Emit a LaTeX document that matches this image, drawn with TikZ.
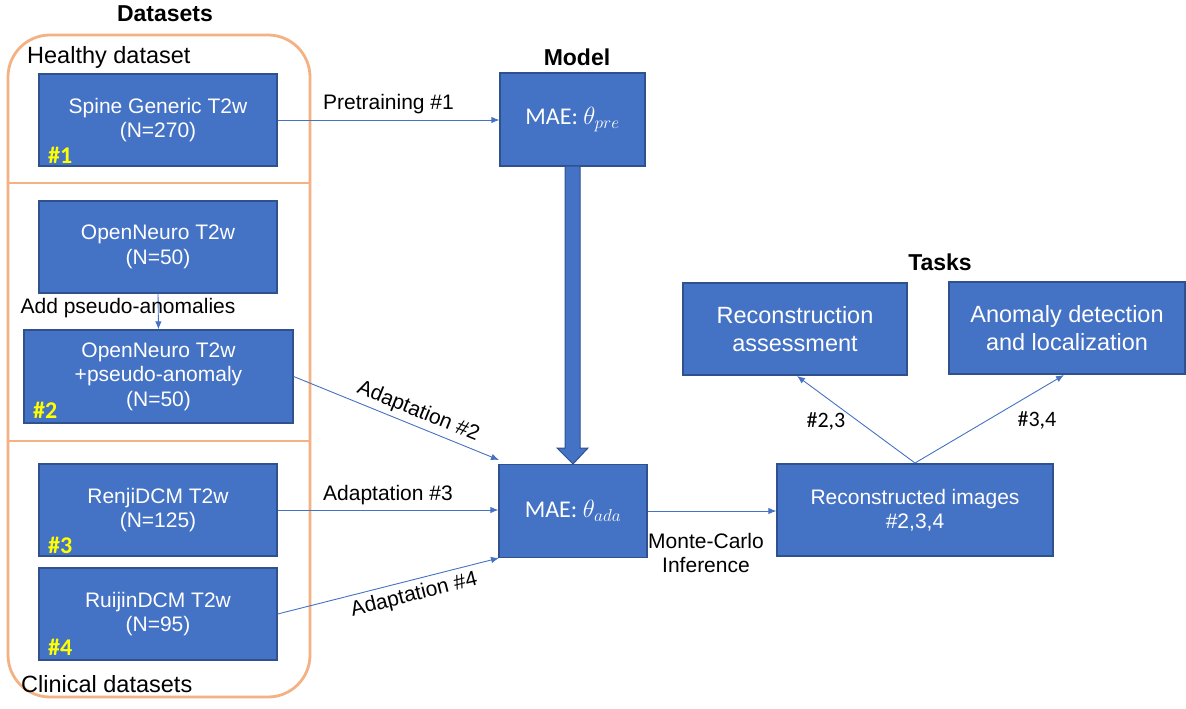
\documentclass[tikz,border=0pt]{standalone}
\usepackage{fontspec}
\setmainfont{Liberation Sans}
\newfontfamily\calibri{Carlito}
\usetikzlibrary{arrows.meta}
\definecolor{boxblue}{HTML}{4472C4}
\definecolor{boxedge}{HTML}{2F528F}
\definecolor{frameorange}{HTML}{F4B183}
\definecolor{tagyellow}{HTML}{FFFF00}
\tikzset{
  txt/.style={font=\fontsize{21}{24}\selectfont, align=center, inner sep=0pt},
  head/.style={font=\fontsize{23}{26}\selectfont\bfseries, inner sep=0pt},
  group/.style={font=\fontsize{23.5}{27}\selectfont, inner sep=0pt, anchor=west},
  dbox/.style={draw=boxedge, fill=boxblue, line width=1.3pt, text=white,
    font=\fontsize{21}{24.5}\selectfont, align=center, inner sep=0pt},
  taskbox/.style={dbox, font=\fontsize{23.5}{28.5}\selectfont},
  mbox/.style={dbox, font=\calibri\fontsize{24}{28}\selectfont},
  tag/.style={text=tagyellow, font=\calibri\fontsize{24}{26}\selectfont\bfseries, inner sep=0pt, anchor=south west},
  flow/.style={draw=boxblue, line width=0.9pt, -{Latex[length=8pt,width=6.5pt]}},
  num/.style={font=\calibri\fontsize{22}{26}\selectfont, inner sep=0pt},
}
\begin{document}
\begin{tikzpicture}[x=1pt,y=-1pt]
\useasboundingbox (0,0) rectangle (1186,709);

% dataset frame with its three groups
\draw[frameorange, line width=2.8pt, rounded corners=42pt] (8,35) rectangle (310,697);
\draw[frameorange, line width=2.8pt] (8,183) -- (310,183);
\draw[frameorange, line width=2.8pt] (8,441) -- (310,441);

\node[head] (hdata) at (165,14) {Datasets};
\node[group] (ghealthy) at (27,57) {Healthy dataset};
\node[group] (gclinical) at (21,684) {Clinical datasets};

% dataset boxes
\node[dbox, minimum width=238pt, minimum height=92pt] (spine) at (158,120) {Spine Generic T2w\\(N=270)};
\node[tag] (t1) at (48,164) {\#1};
\node[dbox, minimum width=238pt, minimum height=92pt] (open) at (158,247) {OpenNeuro T2w\\(N=50)};
\node[dbox, minimum width=269pt, minimum height=93pt] (openpa) at (158.5,376.5) {OpenNeuro T2w\\+pseudo-anomaly\\(N=50)};
\node[tag] (t2) at (33,419) {\#2};
\node[dbox, minimum width=238pt, minimum height=92pt] (renji) at (158,510) {RenjiDCM T2w\\(N=125)};
\node[tag] (t3) at (48,554) {\#3};
\node[dbox, minimum width=238pt, minimum height=92pt] (ruijin) at (158,614) {RuijinDCM T2w\\(N=95)};
\node[tag] (t4) at (48,656) {\#4};

\draw[flow] (open.south) -- (openpa.north);
\node[txt] (addpa) at (128,308) {Add pseudo-anomalies};

% model
\node[head] (hmodel) at (577,57) {Model};
\node[mbox, minimum width=145pt, minimum height=93pt] (pre) at (572.5,119.5) {MAE: $\theta_{pre}$};
\node[mbox, minimum width=148pt, minimum height=93pt] (ada) at (573,511) {MAE: $\theta_{ada}$};

% thick transfer arrow from pretrained to adapted model
\draw[boxedge, fill=boxblue, line width=1pt]
  (565,166) -- (580,166) -- (580,448) -- (588,448) -- (573,464)
  -- (557,448) -- (565,448) -- cycle;

% training connectors
\draw[flow] (spine.east) -- (pre.west |- spine.east)
  node[txt, midway, above=6pt] (lpre) {Pretraining \#1};
\draw[flow] (openpa.east) -- (499,460)
  node[txt, pos=0.58, sloped, above=4pt] (l2) {Adaptation \#2};
\draw[flow] (renji.east) -- (ada.west |- renji.east)
  node[txt, midway, above=5pt] (l3) {Adaptation \#3};
\draw[flow] (ruijin.east) -- (499,558)
  node[txt, pos=0.6, sloped, below=5pt] (l4) {Adaptation \#4};

% inference and tasks
\node[dbox, minimum width=276pt, minimum height=92pt] (recon) at (915,510) {Reconstructed images\\\#2,3,4};
\draw[flow] (ada.east) -- (recon.west |- ada.east);
\node[txt, align=center] (mc) at (706,553) {Monte-Carlo\\Inference};

\node[head] (htasks) at (940,262) {Tasks};
\node[taskbox, minimum width=224pt, minimum height=92pt] (assess) at (795,329) {Reconstruction\\assessment};
\node[taskbox, minimum width=236pt, minimum height=92pt] (detect) at (1067,328) {Anomaly detection\\and localization};

\coordinate (rtop) at (915,463);
\draw[flow] (rtop) -- (797,376);
\draw[flow] (rtop) -- (1064,375);
\node[num] (n23) at (826,421) {\#2,3};
\node[num] (n34) at (1037,420) {\#3,4};
\end{tikzpicture}
\end{document}
